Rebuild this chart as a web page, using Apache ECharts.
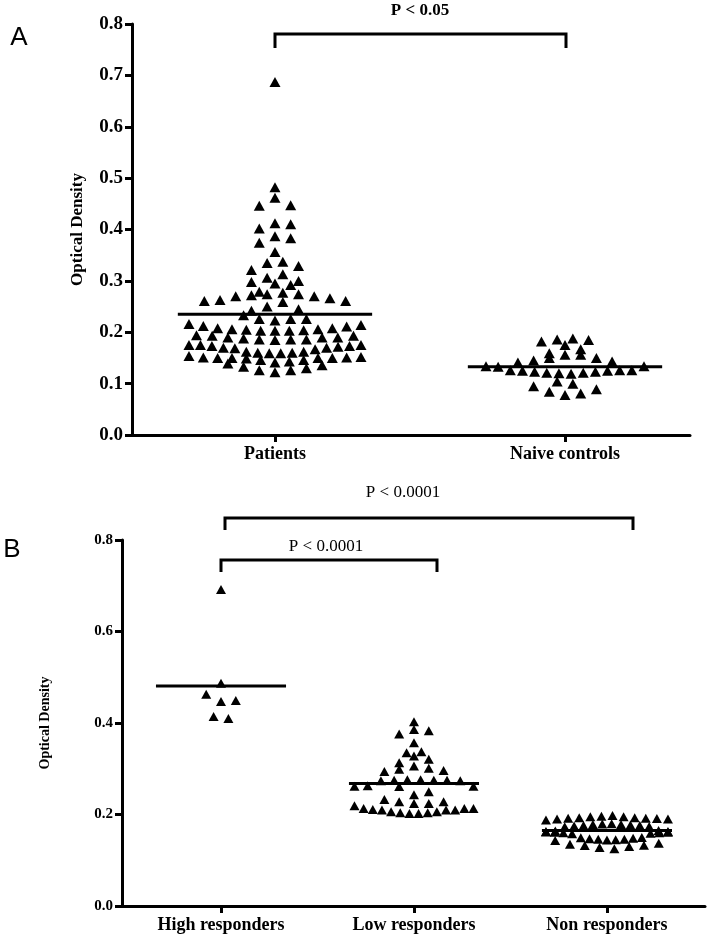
<!DOCTYPE html>
<html>
<head>
<meta charset="utf-8">
<script src="https://cdn.jsdelivr.net/npm/echarts@6/dist/echarts.min.js"></script>
<style>
html, body { margin: 0; padding: 0; background: #fff; }
#main { width: 713px; height: 936px; }
</style>
</head>
<body>
<div id="main"></div>
<script>
// ---- panel A data ----
var catsA = ['Patients', 'Naive controls'];
var patients = [
  0.687, 0.482, 0.462, 0.447, 0.446, 0.412, 0.410, 0.402, 0.387, 0.383, 0.374, 0.356,
  0.337, 0.335, 0.329, 0.321, 0.313,
  0.306, 0.300, 0.298, 0.295, 0.292,
  0.274, 0.272, 0.270, 0.263, 0.261, 0.279, 0.277, 0.259, 0.261, 0.266, 0.270, 0.274,
  0.250, 0.245, 0.242,
  0.233, 0.226, 0.223, 0.226, 0.226,
  0.211, 0.208, 0.206, 0.203, 0.203, 0.214, 0.216, 0.212, 0.204, 0.203, 0.206, 0.208, 0.205,
  0.194, 0.193, 0.190, 0.186, 0.186, 0.185, 0.186, 0.188, 0.190, 0.190, 0.193,
  0.175, 0.175, 0.172, 0.170, 0.167, 0.169, 0.170, 0.173, 0.173, 0.175,
  0.162, 0.160, 0.159, 0.152, 0.151, 0.150, 0.149, 0.150, 0.150, 0.150, 0.151, 0.154, 0.160, 0.159, 0.162,
  0.146, 0.143, 0.139, 0.133, 0.126, 0.122, 0.126, 0.130, 0.136, 0.141, 0.146
];
var naive = [
  0.175, 0.188, 0.185, 0.182, 0.186,
  0.167,
  0.159, 0.156, 0.150, 0.150, 0.156,
  0.143, 0.134, 0.134, 0.133, 0.141, 0.145,
  0.126, 0.125, 0.123, 0.121, 0.121, 0.119, 0.120, 0.123, 0.125, 0.126, 0.126,
  0.104, 0.095, 0.084, 0.078, 0.081, 0.089, 0.100
];
var meansA = [0.235, 0.133];
var pTextA = 'P < 0.05';

// ---- panel B data ----
var catsB = ['High responders', 'Low responders', 'Non responders'];
var high = [0.692, 0.487, 0.463, 0.449, 0.447, 0.414, 0.410];
var low = [
  0.403, 0.383, 0.376, 0.386, 0.357, 0.337, 0.328, 0.335, 0.321, 0.313, 0.306, 0.301, 0.299, 0.294, 0.296,
  0.275, 0.276, 0.274, 0.275, 0.276, 0.274, 0.275, 0.262, 0.262, 0.263, 0.261,
  0.243, 0.250, 0.233, 0.228,
  0.228, 0.224, 0.211, 0.206, 0.210, 0.213, 0.204, 0.213, 0.202, 0.210, 0.202, 0.213, 0.204, 0.219, 0.206, 0.224, 0.210
];
var non = [
  0.193, 0.190, 0.192, 0.188, 0.195, 0.198, 0.191, 0.196, 0.190, 0.193, 0.192, 0.195,
  0.178, 0.176, 0.174, 0.180, 0.177, 0.175, 0.179, 0.173, 0.176, 0.178,
  0.163, 0.160, 0.165, 0.161, 0.158, 0.162, 0.164, 0.159, 0.161, 0.160, 0.163,
  0.148, 0.145, 0.143, 0.146, 0.150, 0.147, 0.144, 0.146, 0.149,
  0.135, 0.132, 0.128, 0.125, 0.130, 0.133, 0.137
];
var meansB = [0.481, 0.268, 0.165];
var pTextB = 'P < 0.0001';

var serif = 'Liberation Serif';

// column scatter layout (Prism style): close values share a row,
// a row is spread around the column centre and squeezed if too wide
function swarm(values, center, mean, pxX, rowH, step, maxW) {
  var sorted = values.slice().sort(function (a, b) { return a - b; });
  var rows = [], cur = null;
  sorted.forEach(function (v) {
    if (!cur || v - cur[0] >= rowH - 1e-9) { cur = [v]; rows.push(cur); }
    else cur.push(v);
  });
  var out = [];
  rows.forEach(function (row) {
    var n = row.length;
    var s = n > 1 ? Math.min(step, maxW / (n - 1)) : step;
    var avg = row.reduce(function (a, b) { return a + b; }, 0) / n;
    var order = avg < mean ? row.slice() : row.slice().reverse();
    var slots = [];
    for (var i = 0; i < n; i++) slots.push(i - (n - 1) / 2);
    slots.sort(function (a, b) { return Math.abs(a) - Math.abs(b) || b - a; });
    order.forEach(function (v, k) {
      out.push([center + slots[k] * s / pxX, v]);
    });
  });
  return out;
}

function meanLine(center, half, m) {
  return [[center - half, m], [center + half, m]];
}

// grid geometry
var gA = { left: 132, top: 24, width: 558, height: 411, xmin: -0.493, xmax: 1.431 };
var gB = { left: 122, top: 540, width: 583, height: 366, xmin: -0.513, xmax: 2.508 };
var pxXA = gA.width / (gA.xmax - gA.xmin);
var pxXB = gB.width / (gB.xmax - gB.xmin);

var groupsA = [patients, naive];
var widthsA = [172, 158];
var groupsB = [high, low, non];
var widthsB = [60, 119, 122];

function xAxisOf(idx, g, cats, fs) {
  var vals = cats.map(function (c, i) { return i; });
  return {
    type: 'value', gridIndex: idx, min: g.xmin, max: g.xmax,
    axisLine: { show: true, onZero: false, lineStyle: { color: '#000', width: 3 } },
    axisTick: { show: true, customValues: vals, length: 7, lineStyle: { color: '#000', width: 3 } },
    axisLabel: {
      customValues: vals, margin: 10, color: '#000', fontFamily: serif, fontWeight: 'bold', fontSize: fs,
      formatter: function (v) { return cats[Math.round(v)]; }
    },
    splitLine: { show: false }
  };
}

function yAxisOf(idx, interval, fs, nameFs, gap) {
  return {
    type: 'value', gridIndex: idx, min: 0, max: 0.8, interval: interval,
    name: 'Optical Density', nameLocation: 'middle', nameGap: gap,
    nameTextStyle: { color: '#000', fontFamily: serif, fontWeight: 'bold', fontSize: nameFs },
    axisLine: { show: true, onZero: false, lineStyle: { color: '#000', width: 3 } },
    axisTick: { show: true, length: 7, lineStyle: { color: '#000', width: 3 } },
    axisLabel: {
      margin: 9, color: '#000', fontFamily: serif, fontWeight: 'bold', fontSize: fs,
      formatter: function (v) { return v.toFixed(1); }
    },
    splitLine: { show: false }
  };
}

var series = [];
groupsA.forEach(function (vals, i) {
  series.push({
    type: 'scatter', xAxisIndex: 0, yAxisIndex: 0, symbol: 'triangle', symbolSize: [11, 10],
    itemStyle: { color: '#000', opacity: 1 },
    data: swarm(vals, i, meansA[i], pxXA, 0.018, 15.7, widthsA[i])
  });
  series.push({
    type: 'line', xAxisIndex: 0, yAxisIndex: 0, symbol: 'none', z: 5,
    lineStyle: { color: '#000', width: 3 }, data: meanLine(i, 0.335, meansA[i])
  });
});
groupsB.forEach(function (vals, i) {
  series.push({
    type: 'scatter', xAxisIndex: 1, yAxisIndex: 1, symbol: 'triangle', symbolSize: [10, 9],
    itemStyle: { color: '#000', opacity: 1 },
    data: swarm(vals, i, meansB[i], pxXB, 0.019, 14.8, widthsB[i])
  });
  series.push({
    type: 'line', xAxisIndex: 1, yAxisIndex: 1, symbol: 'none', z: 5,
    lineStyle: { color: '#000', width: 3 }, data: meanLine(i, 0.337, meansB[i])
  });
});

function bracket(x1, x2, y, leg) {
  return {
    type: 'polyline', z: 10,
    shape: { points: [[x1, y + leg], [x1, y], [x2, y], [x2, y + leg]] },
    style: { stroke: '#000', lineWidth: 3, fill: null }
  };
}
function label(text, x, y, font) {
  return {
    type: 'text', x: x, y: y, z: 10,
    style: { text: text, font: font, fill: '#000', align: 'center', verticalAlign: 'middle' }
  };
}

var chart = echarts.init(document.getElementById('main'));
chart.setOption({
  animation: false,
  backgroundColor: '#fff',
  grid: [
    { left: gA.left, top: gA.top, width: gA.width, height: gA.height },
    { left: gB.left, top: gB.top, width: gB.width, height: gB.height }
  ],
  xAxis: [xAxisOf(0, gA, catsA, 18), xAxisOf(1, gB, catsB, 18)],
  yAxis: [yAxisOf(0, 0.1, 19, 17, 46), yAxisOf(1, 0.2, 15, 14, 70)],
  series: series,
  graphic: [
    label('A', 19, 38, 'normal 26px "Liberation Sans"'),
    label('B', 12, 550, 'normal 26px "Liberation Sans"'),
    bracket(275, 566, 34, 14),
    label(pTextA, 420, 11, 'bold 17px "Liberation Serif"'),
    bracket(225, 633, 518, 12),
    label(pTextB, 403, 493, 'normal 17px "Liberation Serif"'),
    bracket(221, 437, 560, 12),
    label(pTextB, 326, 547, 'normal 17px "Liberation Serif"')
  ]
});
</script>
</body>
</html>
